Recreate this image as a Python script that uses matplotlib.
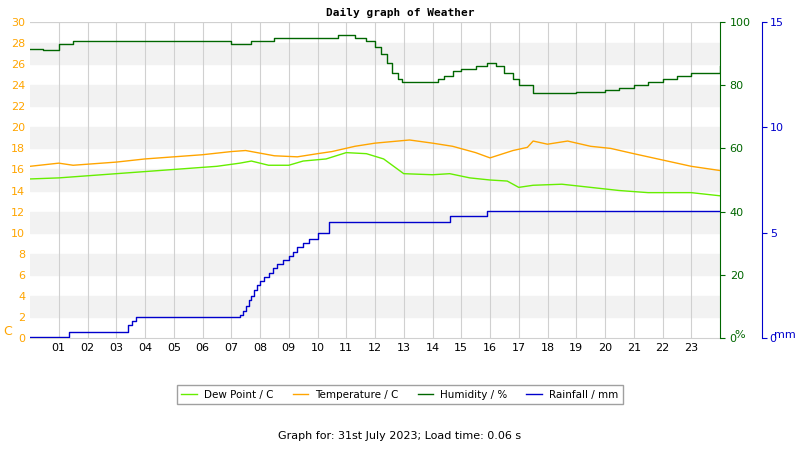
import matplotlib.pyplot as plt
import numpy as np

hum_t = [0, 0.45, 1.0, 1.5, 7.0, 7.7, 8.0, 8.5, 9.5, 10.7, 11.3, 11.7, 12.0, 12.2, 12.4, 12.6, 12.8, 12.95,
         14.2, 14.4, 14.7, 15.0, 15.5, 15.9, 16.2, 16.5, 16.8, 17.0, 17.5, 18.1, 19.0, 20.0, 20.5, 21.0, 21.5, 22.0, 22.5, 23.0, 24.0]
hum_v = [91.5, 91, 93, 94, 93, 94, 94, 95, 95, 96, 95, 94, 92, 90, 87, 84, 82, 81,
         82, 83, 84.5, 85, 86, 87, 86, 84, 82, 80, 77.5, 77.5, 78, 78.5, 79, 80, 81, 82, 83, 84, 86]

temp_t = [0, 1, 1.5, 3, 4, 5, 6, 7, 7.5, 8.5, 9.3, 10, 10.5, 11.3, 12, 12.8, 13.2, 14, 14.7, 15.5, 16,
          16.8, 17.3, 17.5, 18, 18.7, 19.5, 20.2, 21, 22, 23, 24]
temp_v = [16.3, 16.6, 16.4, 16.7, 17.0, 17.2, 17.4, 17.7, 17.8, 17.3, 17.2, 17.5, 17.7, 18.2, 18.5, 18.7, 18.8,
          18.5, 18.2, 17.6, 17.1, 17.8, 18.1, 18.7, 18.4, 18.7, 18.2, 18.0, 17.5, 16.9, 16.3, 15.9]

dew_t = [0, 1, 2, 3.5, 5, 6.5, 7.3, 7.7, 8.3, 9, 9.5, 10.3, 11, 11.7, 12.3, 13, 14, 14.6, 15.3, 16,
         16.6, 17, 17.5, 18.5, 19.5, 20.5, 21.5, 23, 24]
dew_v = [15.1, 15.2, 15.4, 15.7, 16.0, 16.3, 16.6, 16.8, 16.4, 16.4, 16.8, 17.0, 17.6, 17.5, 17.0, 15.6,
         15.5, 15.6, 15.2, 15.0, 14.9, 14.3, 14.5, 14.6, 14.3, 14.0, 13.8, 13.8, 13.5]

rain_t = [0, 1.35, 3.4, 3.55, 3.7, 7.3, 7.4, 7.5, 7.6, 7.7, 7.8, 7.9, 8.0, 8.15, 8.3, 8.45, 8.6, 8.8, 9.0,
          9.15, 9.3, 9.5, 9.7, 10.0, 10.4, 14.6, 15.9, 24]
rain_v = [0.05, 0.3, 0.6, 0.8, 1.0, 1.1, 1.3, 1.5, 1.8, 2.0, 2.3, 2.5, 2.7, 2.9, 3.1, 3.3, 3.5, 3.7, 3.9,
          4.1, 4.3, 4.5, 4.7, 5.0, 5.5, 5.8, 6.05, 6.05]

hours = [f"{h:02d}" for h in range(1, 24)]

fig = plt.figure(figsize=(8, 4.5), dpi=100)
ax = fig.add_axes([0.0375, 0.249, 0.8625, 0.702])
for k in range(0, 30, 4):
    ax.axhspan(k + 2, k + 4, color='#f2f2f2', zorder=0)
for h in range(1, 24):
    ax.axvline(h, color='#d0d0d0', lw=0.8, zorder=0)
ax.axhline(30, color='#d0d0d0', lw=0.8)
ax.plot(temp_t, temp_v, color='orange', lw=1)
ax.plot(dew_t, dew_v, color='#66ee00', lw=1)
ax.set_xlim(0, 24)
ax.set_ylim(0, 30)
ax.set_yticks(range(0, 31, 2))
ax.set_xticks(range(1, 24))
ax.set_xticklabels(hours)
ax.tick_params(axis='y', colors='orange', labelsize=8, length=0)
ax.tick_params(axis='x', labelsize=8, length=0)
for s in ['top', 'right', 'left']:
    ax.spines[s].set_visible(False)
ax.spines['bottom'].set_color('#d0d0d0')

ax2 = ax.twinx()
ax2.step(hum_t, hum_v, where='post', color='#006600', lw=1)
ax2.set_ylim(0, 100)
ax2.set_yticks(range(0, 101, 20))
ax2.tick_params(axis='y', colors='#006600', labelsize=8)
ax2.spines['right'].set_color('#006600')
for s in ['top', 'left', 'bottom']:
    ax2.spines[s].set_visible(False)

ax3 = ax.twinx()
ax3.spines['right'].set_position(('axes', 1.061))
ax3.step(rain_t, rain_v, where='post', color='#0000cc', lw=1)
ax3.set_ylim(0, 15)
ax3.set_yticks([0, 5, 10, 15])
ax3.tick_params(axis='y', colors='#0000cc', labelsize=8, pad=2)
ax3.spines['right'].set_color('#0000cc')
for s in ['top', 'left', 'bottom']:
    ax3.spines[s].set_visible(False)

fig.text(0.004, 0.255, 'C', color='orange', fontsize=9)
fig.text(0.918, 0.25, '%', color='#006600', fontsize=8)
fig.text(0.968, 0.25, 'mm', color='#0000cc', fontsize=8)
fig.text(0.5, 0.965, 'Daily graph of Weather', ha='center', fontsize=8,
         family='DejaVu Sans Mono', weight='bold')

handles = [plt.Line2D([], [], color=c, lw=1) for c in ['#66ee00', 'orange', '#006600', '#0000cc']]
fig.legend(handles, ['Dew Point / C', 'Temperature / C', 'Humidity / %', 'Rainfall / mm'],
           loc='center', bbox_to_anchor=(0.5, 0.123), ncol=4, fontsize=7.5, frameon=True,
           fancybox=False, edgecolor='#888888', handlelength=1.5, columnspacing=1.8, handletextpad=0.7)
fig.text(0.5, 0.025, 'Graph for: 31st July 2023; Load time: 0.06 s', ha='center', fontsize=8)

fig.savefig('out.png', dpi=100)
